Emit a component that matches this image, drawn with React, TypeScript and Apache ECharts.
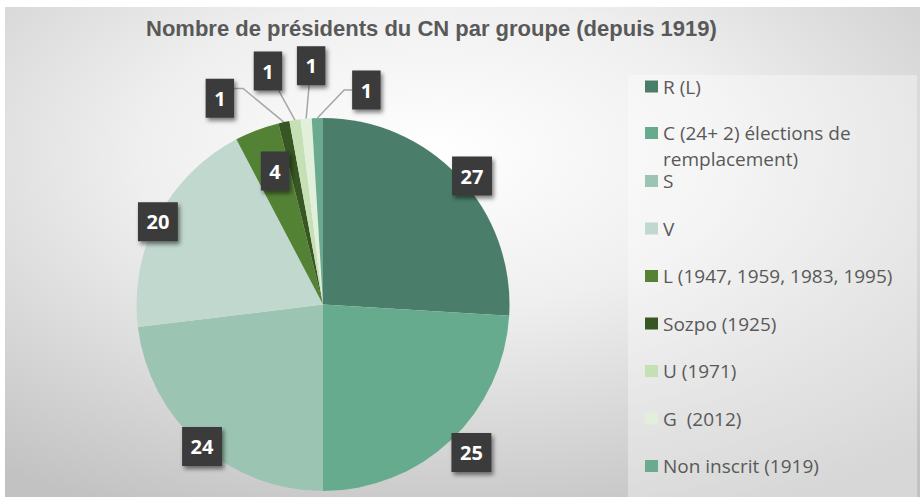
import React, { useEffect, useRef } from 'react';
import * as echarts from 'echarts';

// ---- data ----
const TITLE = 'Nombre de présidents du CN par groupe (depuis 1919)';
const GROUPS = [
  'R (L)',
  'C (24+ 2) élections de remplacement)',
  'S',
  'V',
  'L (1947, 1959, 1983, 1995)',
  'Sozpo (1925)',
  'U (1971)',
  'G  (2012)',
  'Non inscrit (1919)',
];
const PRESIDENTS = [27, 25, 24, 20, 4, 1, 1, 1, 1];
const COLORS = ['#4a7e6a', '#67ab8e', '#9cc4b2', '#c1d8cf', '#548235', '#375623', '#c5e0b4', '#e2efda', '#6aab8f'];

// ---- layout (label placement, chart geometry) ----
const CX = 318;
const CY = 297.5;
const R = 186.5;
// in-slice labels: radial position (fraction of radius) and small angular shift (degrees, clockwise)
const INSIDE_RADIUS: (number | null)[] = [1.055, 1.124, 1.0, 0.99, 0.76, null, null, null, null];
const INSIDE_SHIFT = [2.5, -1.8, -1.1, -1.1, 1.0, 0, 0, 0, 0];
// callout label offsets from the slice's outer edge
const CALLOUT_OFFSET: ([number, number] | null)[] = [null, null, null, null, null, [-64, -24], [-27, -49], [5, -53], [49, -28]];

const legendText = { fontFamily: 'Open Sans', fontSize: 19, color: '#595959' };
const legendCommon = {
  orient: 'vertical',
  left: 640,
  padding: 0,
  itemWidth: 13,
  itemHeight: 12,
  icon: 'rect',
  selectedMode: false,
  textStyle: legendText,
};

export default function App() {
  const ref = useRef<HTMLDivElement>(null);
  useEffect(() => {
    document.body.style.margin = '0';
    const chart = echarts.init(ref.current as HTMLDivElement, null, { renderer: 'svg' });
    const data = GROUPS.map((name, i) => ({
      name,
      value: PRESIDENTS[i],
      itemStyle: { color: COLORS[i] },
      label: { position: CALLOUT_OFFSET[i] ? 'outside' : 'inside' },
      labelLine: { show: !!CALLOUT_OFFSET[i] },
    }));
    const option: any = {
      animation: false,
      backgroundColor: {
        type: 'radial', x: 0.47, y: 0.3, r: 0.8,
        colorStops: [
          { offset: 0, color: '#ffffff' },
          { offset: 0.4, color: '#efefef' },
          { offset: 1, color: '#c2c2c2' },
        ],
      },
      title: {
        text: TITLE,
        left: 141,
        top: 10,
        padding: 0,
        textStyle: { fontFamily: 'Liberation Sans', fontWeight: 'bold', fontSize: 22, color: '#595959' },
      },
      graphic: [
        {
          type: 'rect', left: 623, top: 68, z: 0,
          shape: { width: 289, height: 430 },
          style: { fill: 'rgba(255,255,255,0.35)' },
        },
      ],
      legend: [
        { ...legendCommon, top: 70, data: [GROUPS[0]] },
        {
          ...legendCommon, top: 87, data: [GROUPS[1]],
          textStyle: { ...legendText, lineHeight: 26 },
          formatter: (name: string) => '\n' + name.replace(' de ', ' de\n'),
        },
        { ...legendCommon, top: 164.5, itemGap: 28.5, data: GROUPS.slice(2) },
      ],
      series: [
        {
          type: 'pie',
          center: [CX, CY],
          radius: [0, R],
          startAngle: 90,
          clockwise: true,
          avoidLabelOverlap: false,
          data,
          itemStyle: { borderWidth: 0 },
          label: {
            show: true,
            formatter: '{c}',
            color: '#ffffff',
            fontFamily: 'Open Sans',
            fontWeight: 'bold',
            fontSize: 20,
            lineHeight: 22,
            padding: [8.5, 8.5],
            backgroundColor: '#3a3a3a',
            shadowColor: 'rgba(0,0,0,0.5)',
            shadowBlur: 4,
            shadowOffsetX: 2,
            shadowOffsetY: 3,
          },
          labelLine: { length: 10, length2: 10, lineStyle: { color: '#a6a6a6', width: 1.5 } },
          labelLayout: (p: any) => {
            const i = p.dataIndex;
            const lr = p.labelRect;
            const w = lr.width;
            const h = lr.height;
            const off = CALLOUT_OFFSET[i];
            if (off) {
              const a = p.labelLinePoints ? p.labelLinePoints[0] : [lr.x, lr.y];
              const lx = a[0] + off[0];
              const ly = a[1] + off[1];
              let p1: number[];
              let p2: number[];
              if (off[0] < -40) {
                p2 = [lx + w / 2, ly - h * 0.25];
                p1 = [p2[0] + 9, p2[1]];
              } else if (off[0] > 40) {
                p2 = [lx - w / 2, ly];
                p1 = [p2[0] - 8, p2[1]];
              } else {
                const dx = Math.max(-w * 0.4, Math.min(w * 0.4, -off[0] * 0.4));
                p2 = [lx + dx, ly + h / 2];
                p1 = p2;
              }
              return { x: lx, y: ly, align: 'center', verticalAlign: 'middle', labelLinePoints: [a, p1, p2] };
            }
            const cx0 = lr.x + w / 2;
            const cy0 = lr.y + h / 2;
            const theta = Math.atan2(cx0 - CX, -(cy0 - CY)) + (INSIDE_SHIFT[i] * Math.PI) / 180;
            const d = R * (INSIDE_RADIUS[i] as number);
            return { x: CX + d * Math.sin(theta), y: CY - d * Math.cos(theta), align: 'center', verticalAlign: 'middle' };
          },
        },
      ],
    };
    chart.setOption(option);
    return () => chart.dispose();
  }, []);
  return (
    <div style={{ position: 'relative', width: 920, height: 497, background: '#ffffff' }}>
      <div ref={ref} style={{ position: 'absolute', left: 5, top: 7, width: 915, height: 490 }} />
    </div>
  );
}
